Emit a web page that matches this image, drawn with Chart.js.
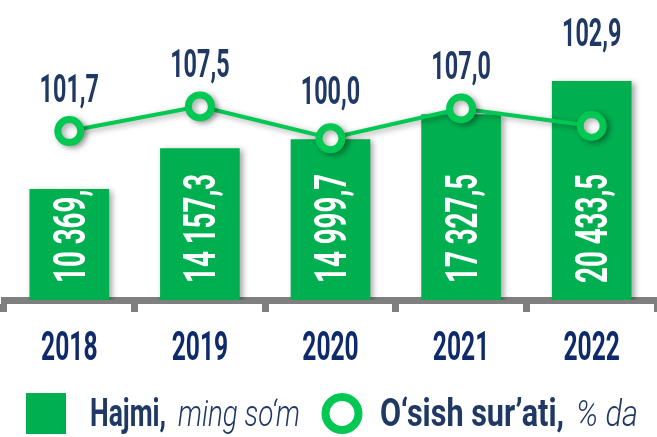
<!DOCTYPE html>
<html>
<head>
<meta charset="utf-8">
<script src="https://cdn.jsdelivr.net/npm/chart.js@4.4.1/dist/chart.umd.min.js"></script>
<style>
  html, body { margin: 0; padding: 0; background: #fff; }
  #wrap { width: 657px; height: 437px; }
</style>
</head>
<body>
<div id="wrap"><canvas id="c" width="657" height="437"></canvas></div>
<script>
const years = ['2018', '2019', '2020', '2021', '2022'];
const volume = [10369.1, 14157.3, 14999.7, 17327.5, 20433.5];
const growth = [101.7, 107.5, 100.0, 107.0, 102.9];
const legendVolume = ['Hajmi,', 'ming so‘m'];
const legendGrowth = ['O‘sish sur’ati,', '% da'];

const GREEN = '#00b050';
const LINE_GREEN = '#00c853';
const NAVY = '#1f3864';
const YEAR_NAVY = '#0f2a6b';

// 10369.1 -> "10 369,1"
function fmt(v) {
  const [i, d] = v.toFixed(1).split('.');
  return i.replace(/\B(?=(\d{3})+$)/g, ' ') + ',' + d;
}

// squeezed text, to get the narrow poster-font look
function condText(ctx, text, x, y, font, color, sx, align) {
  ctx.save();
  ctx.font = font;
  ctx.fillStyle = color;
  ctx.textAlign = 'left';
  ctx.textBaseline = 'alphabetic';
  const w = ctx.measureText(text).width * sx;
  const left = align === 'center' ? x - w / 2 : align === 'right' ? x - w : x;
  ctx.translate(left, y);
  ctx.scale(sx, 1);
  ctx.fillText(text, 0, 0);
  ctx.restore();
}

// text squeezed into a given width
function fitText(ctx, text, x, y, font, color, width) {
  ctx.save();
  ctx.font = font;
  const sx = width / ctx.measureText(text).width;
  ctx.restore();
  condText(ctx, text, x, y, font, color, sx, 'left');
}

const shadowPlugin = {
  id: 'shadow',
  beforeDatasetsDraw(chart) {
    const ctx = chart.ctx;
    ctx.save();
    ctx.shadowColor = 'rgba(0,0,0,0.35)';
    ctx.shadowBlur = 6;
    ctx.shadowOffsetX = 3;
    ctx.shadowOffsetY = 2;
  },
  afterDatasetsDraw(chart) {
    chart.ctx.restore();
  }
};

const labelsPlugin = {
  id: 'labels',
  afterDraw(chart) {
    const ctx = chart.ctx;
    const bars = chart.getDatasetMeta(1).data;
    const pts = chart.getDatasetMeta(0).data;
    const bottom = chart.chartArea.bottom;

    // values inside bars, rotated
    bars.forEach((b, i) => {
      ctx.save();
      ctx.translate(b.x, bottom - 17);
      ctx.rotate(-Math.PI / 2);
      condText(ctx, fmt(volume[i]), 0, 15.5, 'bold 44px Roboto', '#ffffff', 0.63, 'left');
      ctx.restore();
    });

    // growth labels above points (and above bar top)
    pts.forEach((p, i) => {
      const y = Math.min(p.y - 29, bars[i].y - 35);
      condText(ctx, growth[i].toFixed(1).replace('.', ','), p.x, y, 'bold 39px Roboto', NAVY, 0.6, 'center');
    });

    // year labels
    const xs = chart.scales.x;
    years.forEach((yr, i) => {
      condText(ctx, yr, xs.getPixelForValue(i), 360, 'bold 41px Roboto', YEAR_NAVY, 0.6, 'center');
    });

    // legend
    ctx.save();
    ctx.fillStyle = GREEN;
    ctx.fillRect(26, 393, 40, 41);
    ctx.beginPath();
    ctx.arc(342, 413.5, 16.5, 0, Math.PI * 2);
    ctx.fillStyle = '#fff';
    ctx.fill();
    ctx.lineWidth = 8;
    ctx.strokeStyle = LINE_GREEN;
    ctx.stroke();
    ctx.restore();
    fitText(ctx, legendVolume[0], 90, 426, 'bold 38px Roboto', NAVY, 76);
    fitText(ctx, legendVolume[1], 178, 426, 'italic 300 36px Roboto', NAVY, 122);
    fitText(ctx, legendGrowth[0], 380, 426, 'bold 38px Roboto', NAVY, 184);
    fitText(ctx, legendGrowth[1], 576, 426, 'italic 300 36px Roboto', NAVY, 62);
  }
};

new Chart(document.getElementById('c'), {
  type: 'bar',
  data: {
    labels: years,
    datasets: [
      {
        type: 'line',
        label: legendGrowth.join(' '),
        data: growth,
        yAxisID: 'y2',
        order: 0,
        borderColor: LINE_GREEN,
        borderWidth: 4,
        pointRadius: 11.5,
        pointBorderWidth: 7,
        pointBackgroundColor: '#ffffff',
        pointBorderColor: LINE_GREEN,
        tension: 0,
        clip: false
      },
      {
        type: 'bar',
        label: legendVolume.join(' '),
        data: volume,
        yAxisID: 'y',
        order: 1,
        backgroundColor: GREEN,
        barPercentage: 0.61,
        categoryPercentage: 1
      }
    ]
  },
  options: {
    responsive: false,
    animation: false,
    devicePixelRatio: 1,
    layout: { autoPadding: false, padding: { left: 4, right: -4, top: 0, bottom: 125 } },
    plugins: {
      legend: { display: false },
      tooltip: { enabled: false }
    },
    scales: {
      x: {
        z: 1,
        offset: true,
        grid: {
          offset: true,
          drawOnChartArea: false,
          drawTicks: true,
          tickLength: 12,
          color: '#7f7f7f',
          lineWidth: 7
        },
        border: { display: true, color: '#7f7f7f', width: 7 },
        ticks: { display: false }
      },
      y: { display: false, min: 0, max: 28000 },
      y2: { display: false, min: 62, max: 132.5 }
    }
  },
  plugins: [shadowPlugin, labelsPlugin]
});
</script>
</body>
</html>
